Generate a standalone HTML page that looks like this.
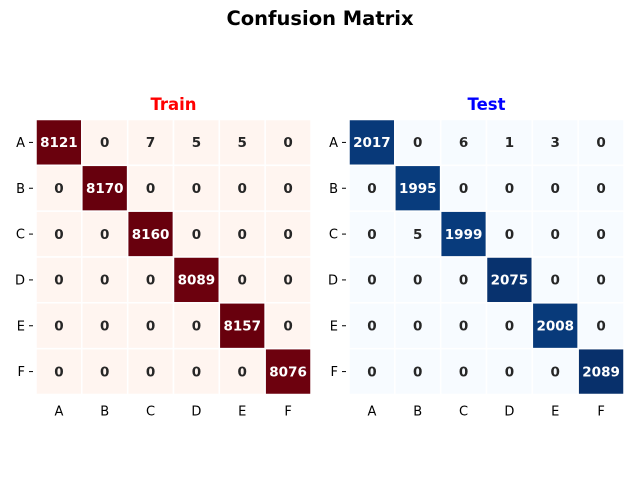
<!DOCTYPE html>
<html><head><meta charset="utf-8"><style>
body{margin:0;background:#fff;font-family:"Liberation Sans","DejaVu Sans",sans-serif}
svg text{font-family:"DejaVu Sans","Liberation Sans",sans-serif}
</style></head><body>
<svg id="c" width="640" height="480">
<text x="320" y="25" text-anchor="middle" font-size="19.5" font-weight="bold">Confusion Matrix</text>
</svg>
<script>
const labels=["A","B","C","D","E","F"];
const trainValues=[[8121,0,7,5,5,0],[0,8170,0,0,0,0],[0,0,8160,0,0,0],[0,0,0,8089,0,0],[0,0,0,0,8157,0],[0,0,0,0,0,8076]];
const testValues=[[2017,0,6,1,3,0],[0,1995,0,0,0,0],[0,5,1999,0,0,0],[0,0,0,2075,0,0],[0,0,0,0,2008,0],[0,0,0,0,0,2089]];
const NS="http://www.w3.org/2000/svg";
const svg=document.getElementById('c');
const reds=[[0,[255,245,240]],[0.125,[254,224,210]],[0.25,[252,187,161]],[0.375,[252,146,114]],[0.5,[251,106,74]],[0.625,[239,59,44]],[0.75,[203,24,29]],[0.875,[165,15,21]],[1,[103,0,13]]];
const blues=[[0,[247,251,255]],[0.125,[222,235,247]],[0.25,[198,219,239]],[0.375,[158,202,225]],[0.5,[107,174,214]],[0.625,[66,146,198]],[0.75,[33,113,181]],[0.875,[8,81,156]],[1,[8,48,107]]];
function cmap(m,t){for(let i=1;i<m.length;i++){if(t<=m[i][0]){const a=m[i-1],b=m[i],f=(t-a[0])/(b[0]-a[0]);return 'rgb('+a[1].map((v,k)=>Math.round(v+(b[1][k]-v)*f)).join(',')+')';}}return 'rgb('+m[m.length-1][1].join(',')+')';}
function el(t,a){const e=document.createElementNS(NS,t);for(const k in a)e.setAttribute(k,a[k]);svg.appendChild(e);return e;}
function draw(vals,x0,title,color,m,name){
  const y0=119.5,cw=275/6;
  const mx=Math.max(...vals.flat()),mn=Math.min(...vals.flat());
  const xs=i=>x0+i*cw, ys=j=>y0+j*cw;
  const t=el('text',{x:x0+137.5,y:110,'text-anchor':'middle','font-size':16.5,'font-weight':'bold',fill:color});
  t.textContent=title;
  
  
  vals.forEach((row,r)=>row.forEach((v,c)=>{
    const f=(v-mn)/(mx-mn);
    const rc=el('rect',{x:xs(c),y:ys(r),width:cw,height:cw,fill:cmap(m,f),stroke:'#fff','stroke-width':1.5});
    
    
    const tx=el('text',{x:xs(c)+cw/2,y:ys(r)+cw/2+4.7,'text-anchor':'middle','font-size':13.5,'font-weight':'bold',fill:f>0.5?'#fff':'#262626'});
    tx.textContent=v;
    
    
  }));
  labels.forEach((l,i)=>{
    const yl=el('text',{x:x0-11,y:ys(i)+cw/2+4.5,'text-anchor':'end','font-size':13,fill:'#000'});
    yl.textContent=l;
    
    
    el('line',{x1:x0-7,x2:x0-3,y1:ys(i)+cw/2,y2:ys(i)+cw/2,stroke:'#000','stroke-width':1});
    const xl=el('text',{x:xs(i)+cw/2,y:y0+275+21,'text-anchor':'middle','font-size':13,fill:'#000'});
    xl.textContent=l;
    
    
  });
}
draw(trainValues,36,'Train','#ff0000',reds,'train');
draw(testValues,349,'Test','#0000ff',blues,'test');
</script>
</body></html>
